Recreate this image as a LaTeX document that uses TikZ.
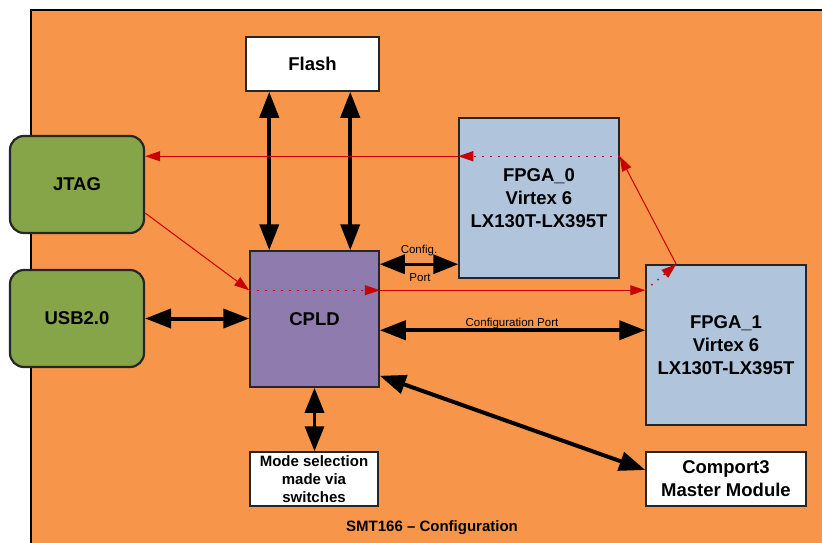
\documentclass[tikz,border=0pt]{standalone}
\usepackage{fontspec}
\setmainfont{Liberation Sans}
\usetikzlibrary{arrows.meta,calc}
\definecolor{bgorange}{RGB}{247,150,74}
\definecolor{jgreen}{RGB}{134,164,72}
\definecolor{cpurple}{RGB}{143,123,173}
\definecolor{fblue}{RGB}{176,196,220}
\definecolor{jred}{RGB}{200,0,0}
\tikzset{
  blk/.style={draw=black!85, line width=1.5pt, inner sep=0pt, align=center, font=\bfseries\fontsize{18.5}{23}\selectfont},
  whitebox/.style={blk, fill=white},
  greenbox/.style={blk, fill=jgreen, line width=2.2pt, rounded corners=14pt, minimum width=134pt, minimum height=97pt},
  fpgabox/.style={blk, fill=fblue, minimum width=160pt, minimum height=160pt},
  bigarrow/.style={line width=4pt, {Triangle[length=26pt,width=19pt]}-{Triangle[length=26pt,width=19pt]}},
  midarrow/.style={line width=3.4pt, {Triangle[length=25pt,width=19pt]}-{Triangle[length=25pt,width=19pt]}},
  redline/.style={draw=jred, line width=1pt, -{Triangle[length=15pt,width=10pt]}},
  reddots/.style={draw=jred, line width=1.4pt, dash pattern=on 1.4pt off 6.6pt, -{Triangle[length=15pt,width=10pt]}},
  smalllabel/.style={font=\fontsize{11.5}{13}\selectfont, inner sep=0pt}
}
\begin{document}
\begin{tikzpicture}[x=1pt,y=-1pt]
\useasboundingbox (0,0) rectangle (822,543);
\begin{scope}
\clip (0,0) rectangle (822,543);
\fill[bgorange] (31,10) rectangle (840,560);
\draw[black, line width=2pt] (31,560) -- (31,10) -- (840,10);
\end{scope}

\node[whitebox, minimum width=133pt, minimum height=54pt] (flash) at (312.5,64) {Flash};
\node[greenbox] (jtag) at (77,184.5) {JTAG};
\node[greenbox] (usb) at (77,318.5) {USB2.0};
\node[blk, fill=cpurple, minimum width=129pt, minimum height=136pt] (cpld) at (314.5,319) {CPLD};
\node[fpgabox] (fpga0) at (539,198) {FPGA\_0\\Virtex 6\\LX130T-LX395T};
\node[fpgabox] (fpga1) at (726,345) {FPGA\_1\\Virtex 6\\LX130T-LX395T};
\node[whitebox, minimum width=128pt, minimum height=54pt, font=\bfseries\fontsize{15}{18}\selectfont] (mode) at (314,479) {Mode selection\\made via\\switches};
\node[whitebox, minimum width=160pt, minimum height=54pt] (comport) at (726,479) {Comport3\\Master Module};
\node[font=\bfseries\fontsize{15}{18}\selectfont, inner sep=0pt] (title) at (432,528) {SMT166 -- Configuration};

% black connectors
\draw[bigarrow] ([xshift=24pt]flash.south west) -- ([xshift=20pt]cpld.north west);
\draw[bigarrow] ([xshift=105pt]flash.south west) -- ([xshift=101pt]cpld.north west);
\draw[bigarrow] (usb.east) -- (usb.east -| cpld.west);
\coordinate (cfa) at ([yshift=-14pt]cpld.north east);
\draw[midarrow] (cfa) -- (cfa -| fpga0.west);
\node[smalllabel] (cfg1) at (419,251) {Config.};
\node[smalllabel] (cfg2) at (420,278) {Port};
\coordinate (cpa) at ([yshift=-80pt]cpld.north east);
\draw[bigarrow] (cpa) -- (cpa -| fpga1.west);
\node[smalllabel] (cpl) at (512,324) {Configuration Port};
\draw[midarrow] (cpld.south) -- (cpld.south |- mode.north);
\draw[bigarrow] ([yshift=12pt]cpld.south east) -- ([yshift=9pt]comport.west);

% red JTAG chain
\coordinate (jr) at ([yshift=-28.5pt]jtag.east);
\coordinate (rl) at ([yshift=-40pt]cpld.north west);
\coordinate (rr) at (rl -| cpld.east);
\coordinate (f1in) at (rl -| fpga1.west);
\coordinate (f1c) at ([xshift=31pt]fpga1.north west);
\coordinate (f0r) at ([yshift=-39pt]fpga0.north east);
\coordinate (f0l) at (f0r -| fpga0.west);
\coordinate (jl) at (f0r -| jtag.east);
\draw[redline] (jr) -- (rl);
\draw[reddots] (rl) -- (rr);
\draw[redline] (rr) -- (f1in);
\draw[reddots] (f1in) -- (f1c);
\draw[redline] (f1c) -- (f0r);
\draw[reddots] (f0r) -- (f0l);
\draw[redline] (f0l) -- (jl);
\end{tikzpicture}
\end{document}
